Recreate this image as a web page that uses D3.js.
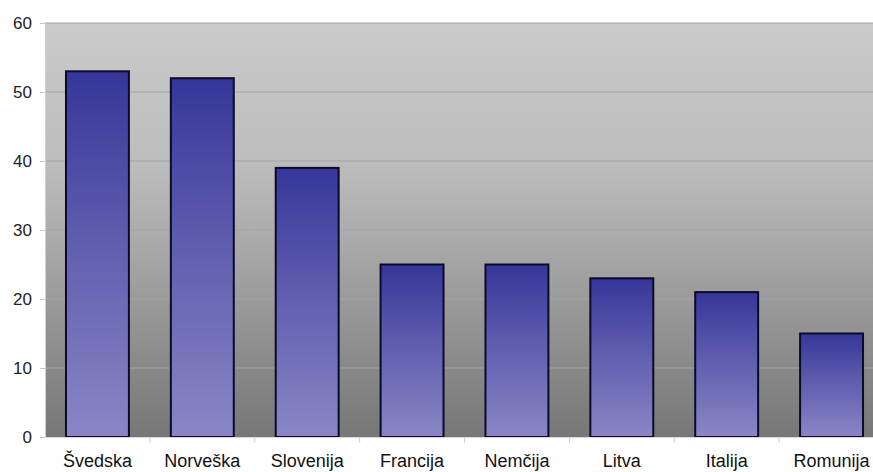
<!DOCTYPE html>
<html><head><meta charset="utf-8">
<script src="https://cdn.jsdelivr.net/npm/d3@7"></script>
<style>body{margin:0;background:#fff}svg{display:block}</style>
</head><body>
<svg id="c" width="873" height="472"></svg>
<script>
const categories = ["Švedska","Norveška","Slovenija","Francija","Nemčija","Litva","Italija","Romunija"];
const values = [53,52,39,25,25,23,21,15];
const yTicks = [0,10,20,30,40,50,60];

const svg = d3.select("#c");
const m = {left:45, top:23};
const plotW = 839, plotH = 414;
const x = d3.scaleBand().domain(categories).range([m.left, m.left+plotW]).paddingInner(0.4).paddingOuter(0.2);
const xb = d3.scaleBand().domain(categories).range([m.left, m.left+plotW]);
const y = d3.scaleLinear().domain([0,60]).range([m.top+plotH, m.top]);

const defs = svg.append("defs");
const bg = defs.append("linearGradient").attr("id","bg").attr("x1",0).attr("y1",0).attr("x2",0).attr("y2",1);
bg.append("stop").attr("offset","0%").attr("stop-color","#cacaca");
bg.append("stop").attr("offset","33%").attr("stop-color","#bdbdbd");
bg.append("stop").attr("offset","50%").attr("stop-color","#adadad");
bg.append("stop").attr("offset","67%").attr("stop-color","#9a9a9a");
bg.append("stop").attr("offset","100%").attr("stop-color","#777777");
const bar = defs.append("linearGradient").attr("id","bar").attr("x1",0).attr("y1",0).attr("x2",0).attr("y2",1);
bar.append("stop").attr("offset","0%").attr("stop-color","#36369a");
bar.append("stop").attr("offset","45%").attr("stop-color","#5e5cae");
bar.append("stop").attr("offset","100%").attr("stop-color","#8a86c6");

svg.append("rect").attr("x",m.left).attr("y",m.top).attr("width",plotW).attr("height",plotH).attr("fill","url(#bg)");

// gridlines
svg.append("g").selectAll("line").data(yTicks.filter(d=>d>0)).join("line")
  .attr("x1",m.left).attr("x2",m.left+plotW).attr("y1",d=>y(d)).attr("y2",d=>y(d))
  .attr("stroke","#a4a4a4").attr("stroke-width",1);

// bars
svg.append("g").selectAll("rect").data(values).join("rect")
  .attr("x",(d,i)=>x(categories[i])).attr("width",x.bandwidth())
  .attr("y",d=>y(d)).attr("height",d=>y(0)-y(d))
  .attr("fill","url(#bar)").attr("stroke","#0a0a2a").attr("stroke-width",2);

// y axis
const ya = svg.append("g").attr("transform",`translate(${m.left},0)`)
  .call(d3.axisLeft(y).tickValues(yTicks).tickSize(5).tickPadding(8));
ya.select(".domain").attr("stroke","#d0d0d0");
ya.selectAll(".tick line").attr("stroke","#c8c8c8");
ya.selectAll("text").attr("font-family","Liberation Sans, Arial, sans-serif").attr("font-size",17).attr("fill","#222");

// x axis
const xa = svg.append("g").attr("transform",`translate(0,${m.top+plotH})`)
  .call(d3.axisBottom(xb).tickSize(0).tickPadding(17));
xa.select(".domain").attr("stroke","#d8d8d8");
xa.selectAll("text").attr("font-family","Liberation Sans, Arial, sans-serif").attr("font-size",18).attr("fill","#111");
svg.append("g").selectAll("line").data(categories.slice(1)).join("line")
  .attr("x1",d=>xb(d)).attr("x2",d=>xb(d)).attr("y1",m.top+plotH).attr("y2",m.top+plotH+6)
  .attr("stroke","#d0d0d0");
</script>
</body></html>
